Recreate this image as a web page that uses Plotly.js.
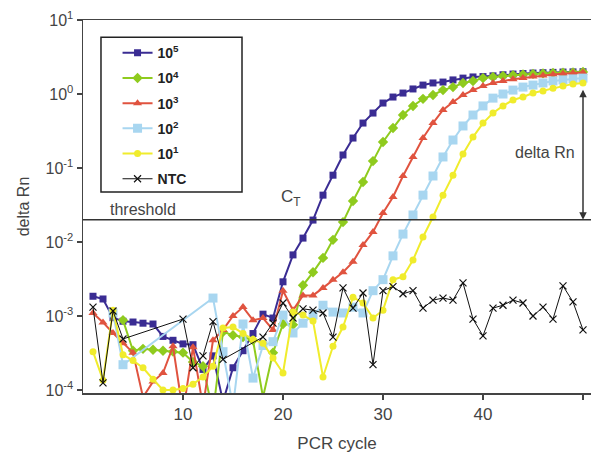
<!DOCTYPE html>
<html>
<head>
<meta charset="utf-8">
<script src="https://cdn.plot.ly/plotly-3.0.1.min.js"></script>
<style>html,body{margin:0;padding:0;background:#fff;}#chart{width:591px;height:455px;}</style>
</head>
<body>
<div id="chart"></div>
<script>
// ---- data ----
const seriesNames = ["10<sup>5</sup>", "10<sup>4</sup>", "10<sup>3</sup>", "10<sup>2</sup>", "10<sup>1</sup>", "NTC"];

const cycles_e5 = [1,2,3,4,5,6,7,8,9,10,11,12,13,14,15,16,17,18,19,20,21,22,23,24,25,26,27,28,29,30,31,32,33,34,35,36,37,38,39,40,41,42,43,44,45,46,47,48,49,50];
const rn_e5 = [1.85e-3,1.7e-3,9.5e-4,8.5e-4,8.3e-4,8.0e-4,7.8e-4,5.3e-4,4.7e-4,4.2e-4,4.1e-4,1.9e-4,2.9e-4,7e-5,2.0e-4,3.4e-4,5.8e-4,1.06e-3,9.4e-4,2.9e-3,6.7e-3,0.0113,0.0198,0.043,0.080,0.150,0.254,0.405,0.553,0.755,0.91,1.03,1.17,1.32,1.41,1.45,1.55,1.64,1.70,1.72,1.76,1.82,1.86,1.89,1.92,1.94,1.96,1.98,1.99,2.0];

const cycles_e4 = [4,5,6,7,8,9,10,11,12,13,14,15,16,17,18,19,20,21,22,23,24,25,26,27,28,29,30,31,32,33,34,35,36,37,38,39,40,41,42,43,44,45,46,47,48,49,50];
const rn_e4 = [8.8e-4,3.4e-4,3.6e-4,3.5e-4,3.4e-4,3.3e-4,3.2e-4,2.4e-4,2.1e-4,5e-5,6.1e-4,5.5e-4,5.2e-4,4.7e-4,8e-5,3.2e-4,7.8e-4,7.6e-4,2.6e-3,3.9e-3,6.1e-3,0.0107,0.0186,0.0358,0.0647,0.124,0.225,0.347,0.52,0.69,0.86,0.97,1.13,1.24,1.41,1.5,1.64,1.70,1.75,1.8,1.84,1.87,1.9,1.92,1.94,1.96,1.98];

const cycles_e3 = [1,2,3,4,5,6,7,8,9,10,11,12,13,14,15,16,17,18,19,20,21,22,23,24,25,26,27,28,29,30,31,32,33,34,35,36,37,38,39,40,41,42,43,44,45,46,47,48,49,50];
const rn_e3 = [1.1e-3,8.2e-4,5.9e-4,4.3e-4,3.2e-4,8e-5,1.3e-4,1.7e-4,3.9e-4,5e-5,3.8e-4,6e-5,4.7e-4,6.5e-4,1.0e-3,1.32e-3,8.8e-4,9.4e-4,6.5e-4,2.2e-3,1.2e-3,1.9e-3,1.9e-3,2.4e-3,3.1e-3,3.9e-3,5.4e-3,9.1e-3,0.0137,0.0247,0.0406,0.078,0.141,0.254,0.405,0.608,0.78,0.97,1.13,1.28,1.41,1.5,1.58,1.65,1.72,1.78,1.83,1.88,1.92,1.95];

const cycles_e2 = [3,4,13,14,15,16,17,18,19,20,21,22,23,24,25,26,27,28,29,30,31,32,33,34,35,36,37,38,39,40,41,42,43,44,45,46,47,48,49,50];
const rn_e2 = [1.1e-3,2.2e-4,1.75e-3,3.3e-4,6e-5,7.8e-4,1.45e-4,4e-4,4.5e-4,1.03e-3,5.9e-4,8.0e-4,1.03e-3,1.4e-3,1.13e-3,1.1e-3,1.32e-3,1.1e-3,2.2e-3,3.1e-3,6.5e-3,0.0128,0.0232,0.043,0.078,0.141,0.239,0.37,0.52,0.69,0.88,1.0,1.13,1.24,1.32,1.41,1.5,1.55,1.6,1.64];

const cycles_e1 = [1,2,3,4,5,6,7,8,9,10,11,12,13,14,15,16,17,18,19,20,21,22,23,24,25,26,27,28,29,30,31,32,33,34,35,36,37,38,39,40,41,42,43,44,45,46,47,48,49,50];
const rn_e1 = [3.3e-4,1.36e-4,1.2e-3,3.0e-4,2.5e-4,2.0e-4,1.4e-4,1.0e-4,1.0e-4,1.05e-4,1.2e-4,1.5e-4,2.1e-4,6.9e-4,7.1e-4,5.8e-4,4.8e-4,4.3e-4,2.7e-4,1.7e-4,1.13e-3,1.03e-3,8.6e-4,1.5e-4,3.9e-4,7.1e-4,1.8e-3,1.5e-3,9.4e-4,1.2e-3,3.1e-3,3.4e-3,5.7e-3,0.0117,0.0218,0.043,0.080,0.155,0.262,0.405,0.553,0.69,0.83,0.91,1.03,1.1,1.2,1.28,1.37,1.41];

const cycles_ntc = [1,2,3,4,10,11,12,13,14,18,19,20,21,22,23,24,25,26,27,28,29,30,31,32,33,34,35,36,37,38,39,40,41,42,43,44,45,46,47,48,49,50];
const rn_ntc = [1.32e-3,1.25e-4,1.17e-3,4.9e-4,9.1e-4,2.0e-4,2.9e-4,8.4e-4,2.6e-4,5.2e-4,8.0e-4,1.5e-3,9.4e-4,1.25e-3,1.2e-3,1.1e-3,5.2e-4,2.4e-3,1.28e-3,2.05e-3,2.2e-4,2.2e-3,2.5e-3,2.0e-3,2.2e-3,1.28e-3,1.64e-3,1.75e-3,1.64e-3,2.8e-3,9.1e-4,5.4e-4,1.28e-3,1.4e-3,1.64e-3,1.5e-3,1.0e-3,1.32e-3,9.1e-4,2.55e-3,1.55e-3,6.5e-4];

const thresholdValue = 0.02;
const deltaRnTop = 1.2;
const xTicks = [10, 20, 30, 40, 50];
const yTickVals = [1e-4, 1e-3, 1e-2, 1e-1, 1, 10];
const yTickText = ["10<sup>-4</sup>","10<sup>-3</sup>","10<sup>-2</sup>","10<sup>-1</sup>","10<sup>0</sup>","10<sup>1</sup>"];

// ---- styles ----
const FONT = "Liberation Sans, Arial, sans-serif";
const styles = [
  {color:"#3a2c93", symbol:"square", size:7, lw:2},
  {color:"#8fcb1e", symbol:"diamond", size:8, lw:2},
  {color:"#e0533f", symbol:"triangle-up", size:8, lw:2},
  {color:"#a8d6f0", symbol:"square", size:9, lw:2},
  {color:"#f0ec2c", symbol:"circle", size:7, lw:2},
  {color:"#111111", symbol:"x-thin-open", size:7, lw:1}
];
const xs = [cycles_e5, cycles_e4, cycles_e3, cycles_e2, cycles_e1, cycles_ntc];
const ys = [rn_e5, rn_e4, rn_e3, rn_e2, rn_e1, rn_ntc];

const traces = xs.map((x, i) => ({
  type: "scatter", mode: "lines+markers",
  x: x, y: ys[i], name: seriesNames[i], legendgroup: "g" + i,
  line: {color: styles[i].color, width: styles[i].lw},
  marker: styles[i].symbol === "x-thin-open"
    ? {symbol: styles[i].symbol, size: styles[i].size, color: styles[i].color, line: {color: styles[i].color, width: 1.2}}
    : {symbol: styles[i].symbol, size: styles[i].size, color: styles[i].color}
}));

// legend frame (paper coords)
const legX0 = 0.0354, legX1 = 0.313, legY0 = 0.539, legY1 = 0.954;

const layout = {
  width: 591, height: 455,
  margin: {l: 83, r: 0, t: 20, b: 62},
  paper_bgcolor: "#fff", plot_bgcolor: "#fff",
  font: {family: FONT, color: "#444", size: 16},
  showlegend: true,
  legend: {
    x: 0.068, y: legY1, xanchor: "left", yanchor: "top",
    borderwidth: 0, bgcolor: "rgba(0,0,0,0)",
    font: {family: FONT, size: 14, color: "#222", weight: "bold"},
    itemwidth: 30, tracegroupgap: 4
  },
  xaxis: {
    range: [0, 50.8], tickvals: xTicks, ticks: "outside", ticklen: 5, tickwidth: 1.5, tickcolor: "#444",
    showline: true, linecolor: "#444", linewidth: 1.5, mirror: true, showgrid: false, zeroline: false,
    tickfont: {size: 17, color: "#444"},
    title: {text: "PCR cycle", font: {size: 17, color: "#444"}, standoff: 14}
  },
  yaxis: {
    type: "log", range: [-4.04, 1], tickvals: yTickVals, ticktext: yTickText,
    ticks: "outside", ticklen: 5, tickwidth: 1.5, tickcolor: "#444",
    showline: true, linecolor: "#444", linewidth: 1.5, mirror: true, showgrid: false, zeroline: false,
    tickfont: {size: 16, color: "#444"},
    title: {text: "delta Rn", font: {size: 16, color: "#444"}, standoff: 12}
  },
  shapes: [
    {type: "line", xref: "paper", x0: 0, x1: 1, yref: "y", y0: thresholdValue, y1: thresholdValue,
     line: {color: "#333", width: 1.5}},
    {type: "rect", xref: "paper", yref: "paper", x0: legX0, x1: legX1, y0: legY0, y1: legY1,
     line: {color: "#222", width: 1.5}, fillcolor: "#fff", layer: "above"}
  ],
  annotations: [
    {x: 50, y: Math.log10(thresholdValue), ax: 50, ay: Math.log10(deltaRnTop), xref: "x", yref: "y", axref: "x", ayref: "y",
     showarrow: true, arrowside: "end+start", arrowhead: 2, arrowsize: 1, arrowwidth: 1.5, arrowcolor: "#333", text: ""},
    {x: 6.0, y: -1.554, xref: "x", yref: "y", text: "threshold", showarrow: false, font: {size: 16, color: "#444"}},
    {x: 20.8, y: -1.405, xref: "x", yref: "y", text: "C<sub>T</sub>", showarrow: false, font: {size: 17, color: "#444"}},
    {x: 46.2, y: -0.797, xref: "x", yref: "y", text: "delta Rn", showarrow: false, font: {size: 16, color: "#444"}}
  ]
};

Plotly.newPlot("chart", traces, layout, {staticPlot: true, displayModeBar: false});
</script>
</body>
</html>
